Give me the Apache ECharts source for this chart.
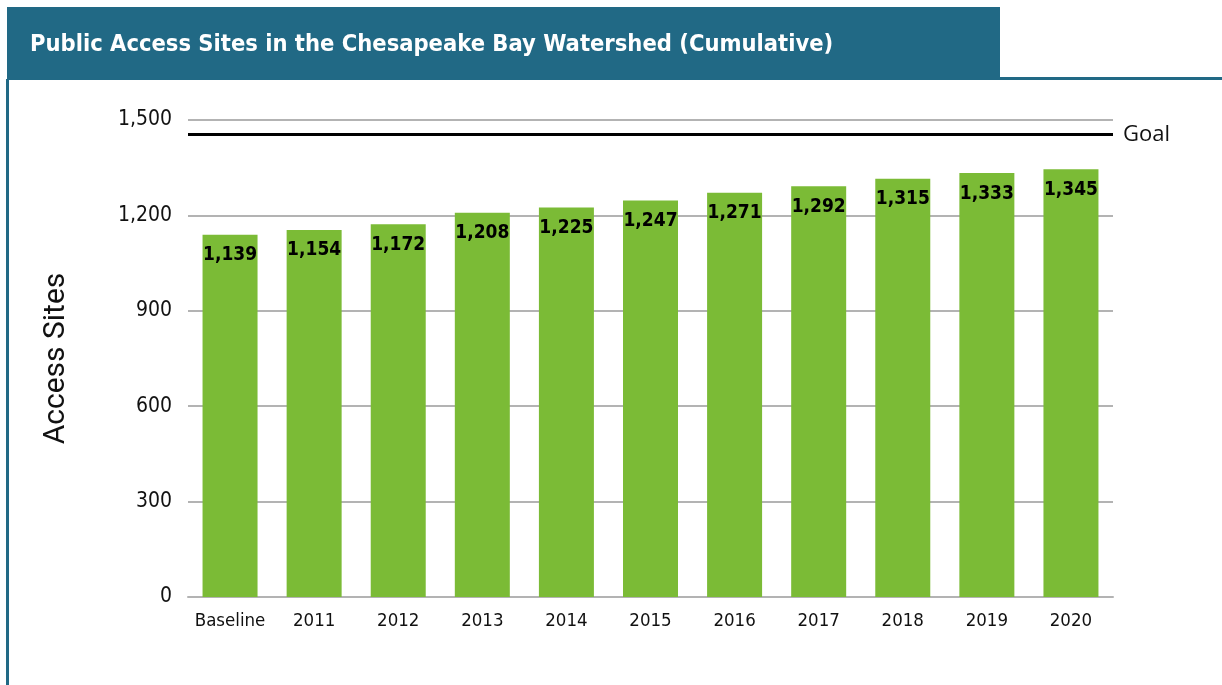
<!DOCTYPE html>
<html><head><meta charset="utf-8">
<script src="https://cdn.jsdelivr.net/npm/echarts@6/dist/echarts.min.js"></script>
<style>html,body{margin:0;padding:0;background:#fff}#c{width:1222px;height:685px}</style>
</head><body><div id="c"></div>
<script>
const titleText = 'Public Access Sites in the Chesapeake Bay Watershed (Cumulative)';
const categories = ['Baseline','2011','2012','2013','2014','2015','2016','2017','2018','2019','2020'];
const accessSites = [1139,1154,1172,1208,1225,1247,1271,1292,1315,1333,1345];
const goalValue = 1455;
const goalLabel = 'Goal';
const yAxisName = 'Access Sites';

const chart = echarts.init(document.getElementById('c'), null, {renderer:'canvas'});
const narrow = '"DejaVu Sans Condensed","Liberation Sans Narrow",sans-serif';
chart.setOption({
  animation:false,
  backgroundColor:'#fff',
  graphic:[
    {type:'rect', shape:{x:7,y:7,width:993,height:73}, style:{fill:'#216985'}},
    {type:'rect', shape:{x:1000,y:77,width:222,height:3}, style:{fill:'#216985'}},
    {type:'rect', shape:{x:6,y:79,width:3,height:606}, style:{fill:'#216985'}},
    {type:'text', left:30, top:33, style:{text:titleText, fill:'#fff', font:'bold 23.5px '+narrow}}
  ],
  grid:{left:188, right:109, top:120, bottom:88},
  xAxis:{
    type:'category', data:categories,
    axisLine:{lineStyle:{color:'#b3b3b3', width:2}},
    axisTick:{show:false},
    axisLabel:{color:'#111', fontFamily:narrow, fontSize:18.5, margin:15, interval:0}
  },
  yAxis:{
    type:'value', min:0, max:1500, interval:300,
    name:yAxisName, nameLocation:'middle', nameGap:117,
    nameTextStyle:{fontFamily:'Roboto', fontSize:30, color:'#111'},
    axisLine:{show:false}, axisTick:{show:false},
    axisLabel:{color:'#111', fontFamily:narrow, fontSize:21, margin:16,
      formatter:v=>v.toLocaleString('en-US')},
    splitLine:{lineStyle:{color:'#b3b3b3', width:2}}
  },
  series:[{
    type:'bar', data:accessSites, barWidth:55,
    itemStyle:{color:'#7bbb36'},
    label:{show:true, position:'insideTop', distance:11, color:'#000',
      fontFamily:narrow, fontWeight:'bold', fontSize:19,
      formatter:p=>p.value.toLocaleString('en-US')},
    markLine:{
      silent:true, symbol:'none',
      lineStyle:{color:'#000', width:3, type:'solid'},
      label:{show:true, position:'end', formatter:goalLabel, color:'#111',
        fontFamily:'"Open Sans",sans-serif', fontSize:22, distance:10},
      data:[{yAxis:goalValue}]
    }
  }]
});
</script></body></html>
